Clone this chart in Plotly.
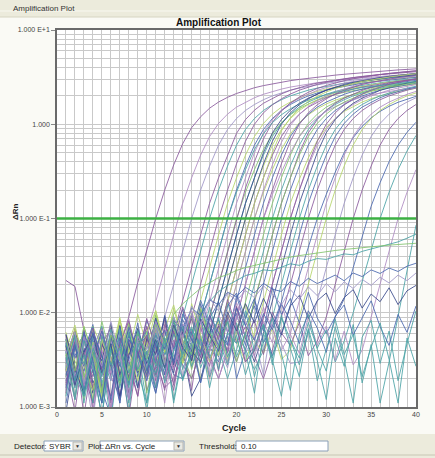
import plotly.graph_objects as go

# ---------------- data ----------------
cycles = list(range(1, 41))
x_range = [0, 40]
x_ticks = [0, 5, 10, 15, 20, 25, 30, 35, 40]
y_tickvals = [0.001, 0.01, 0.1, 1, 10]
y_ticktext = ["1.000 E-3", "1.000 E-2", "1.000 E-1", "1.000", "1.000 E+1"]
threshold = 0.10
baseline_marks = [3, 10]

curve_01 = [0.022, 0.019, 0.0065, 0.0009, 0.003, 0.0022, 0.0045, 0.009, 0.021, 0.046,
            0.1, 0.2, 0.37, 0.62, 0.92, 1.2, 1.48, 1.72, 1.93, 2.12,
            2.29, 2.44, 2.57, 2.69, 2.8, 2.9, 2.99, 3.08, 3.16, 3.24,
            3.32, 3.39, 3.46, 3.53, 3.59, 3.65, 3.71, 3.77, 3.82, 3.87]
curve_02 = [0.004, 0.0012, 0.0065, 0.0025, 0.0008, 0.0035, 0.0018, 0.0042, 0.003, 0.006,
            0.013, 0.03, 0.067, 0.145, 0.27, 0.47, 0.74, 1.02, 1.28, 1.52,
            1.72, 1.91, 2.08, 2.23, 2.36, 2.48, 2.58, 2.68, 2.76, 2.84,
            2.92, 2.99, 3.05, 3.11, 3.17, 3.22, 3.28, 3.33, 3.38, 3.42]
curve_03 = [0.0015, 0.005, 0.0028, 0.0007, 0.0048, 0.0022, 0.006, 0.0012, 0.0034, 0.002,
            0.004, 0.009, 0.02, 0.045, 0.1, 0.2, 0.36, 0.6, 0.88, 1.15,
            1.4, 1.62, 1.82, 2.0, 2.15, 2.3, 2.42, 2.53, 2.63, 2.72,
            2.8, 2.88, 2.95, 3.02, 3.08, 3.14, 3.2, 3.25, 3.3, 3.35]
curve_04 = [0.0025, 0.0009, 0.0042, 0.0016, 0.0055, 0.0011, 0.0038, 0.0021, 0.0068, 0.0015,
            0.0026, 0.003, 0.006, 0.013, 0.03, 0.067, 0.145, 0.27, 0.47, 0.8,
            1.12, 1.41, 1.67, 1.89, 2.1, 2.29, 2.45, 2.6, 2.73, 2.84,
            2.95, 3.04, 3.12, 3.21, 3.29, 3.36, 3.42, 3.49, 3.54, 3.61]
curve_05 = [0.0032, 0.0058, 0.0014, 0.0026, 0.0008, 0.0044, 0.0019, 0.0052, 0.0024, 0.0011,
            0.0036, 0.002, 0.004, 0.009, 0.02, 0.045, 0.1, 0.2, 0.36, 0.6,
            0.88, 1.15, 1.4, 1.62, 1.82, 2.0, 2.15, 2.3, 2.42, 2.53,
            2.63, 2.72, 2.8, 2.88, 2.95, 3.02, 3.08, 3.14, 3.2, 3.25]
curve_06 = [0.0045, 0.0017, 0.0062, 0.0023, 0.0035, 0.0009, 0.0049, 0.0027, 0.0013, 0.0058,
            0.0031, 0.0016, 0.002, 0.004, 0.009, 0.02, 0.045, 0.1, 0.2, 0.38,
            0.66, 1.0, 1.32, 1.61, 1.86, 2.09, 2.3, 2.47, 2.65, 2.78,
            2.91, 3.02, 3.13, 3.22, 3.31, 3.39, 3.47, 3.54, 3.61, 3.68]
curve_07 = [0.0021, 0.0046, 0.0012, 0.0064, 0.0029, 0.0041, 0.0018, 0.0075, 0.0033, 0.0022,
            0.0052, 0.0027, 0.0085, 0.003, 0.006, 0.013, 0.03, 0.067, 0.145, 0.27,
            0.47, 0.74, 1.02, 1.28, 1.52, 1.72, 1.91, 2.08, 2.23, 2.36,
            2.48, 2.58, 2.68, 2.76, 2.84, 2.92, 2.99, 3.05, 3.11, 3.17]
curve_08 = [0.0011, 0.0037, 0.0024, 0.0053, 0.0015, 0.0008, 0.0043, 0.0019, 0.0061, 0.0028,
            0.0014, 0.0039, 0.0022, 0.002, 0.004, 0.009, 0.02, 0.045, 0.1, 0.2,
            0.36, 0.6, 0.88, 1.15, 1.4, 1.62, 1.82, 2.0, 2.15, 2.3,
            2.42, 2.53, 2.63, 2.72, 2.8, 2.88, 2.95, 3.02, 3.08, 3.14]
curve_09 = [0.0056, 0.0021, 0.0034, 0.0009, 0.0047, 0.0026, 0.0071, 0.0017, 0.0039, 0.0024,
            0.0062, 0.0031, 0.0018, 0.0044, 0.003, 0.006, 0.013, 0.03, 0.067, 0.145,
            0.27, 0.5, 0.81, 1.12, 1.41, 1.67, 1.89, 2.1, 2.29, 2.45,
            2.6, 2.73, 2.84, 2.95, 3.04, 3.12, 3.21, 3.29, 3.36, 3.42]
curve_10 = [0.0028, 0.0065, 0.0019, 0.0041, 0.0012, 0.0054, 0.0031, 0.0023, 0.0068, 0.0014,
            0.0045, 0.0026, 0.0082, 0.0037, 0.002, 0.004, 0.009, 0.02, 0.045, 0.1,
            0.19, 0.33, 0.54, 0.79, 1.04, 1.26, 1.46, 1.64, 1.8, 1.94,
            2.07, 2.18, 2.28, 2.37, 2.45, 2.52, 2.59, 2.66, 2.72, 2.77]
curve_11 = [0.0017, 0.0049, 0.0008, 0.0036, 0.0058, 0.0021, 0.0013, 0.0047, 0.0025, 0.0072,
            0.0033, 0.0015, 0.0051, 0.0028, 0.002, 0.004, 0.009, 0.02, 0.045, 0.1,
            0.21, 0.4, 0.7, 1.05, 1.38, 1.68, 1.94, 2.18, 2.4, 2.58,
            2.76, 2.9, 3.04, 3.16, 3.26, 3.36, 3.46, 3.54, 3.62, 3.7]
curve_12 = [0.0039, 0.0013, 0.0057, 0.0024, 0.0032, 0.0007, 0.0044, 0.0029, 0.0016, 0.0063,
            0.0022, 0.0048, 0.0011, 0.0035, 0.0055, 0.003, 0.006, 0.013, 0.03, 0.067,
            0.145, 0.27, 0.47, 0.74, 1.02, 1.28, 1.52, 1.72, 1.91, 2.08,
            2.23, 2.36, 2.48, 2.58, 2.68, 2.76, 2.84, 2.92, 2.99, 3.05]
curve_13 = [0.0062, 0.0027, 0.0015, 0.0049, 0.0034, 0.0075, 0.0019, 0.0041, 0.0058, 0.0024,
            0.0092, 0.0038, 0.0065, 0.0029, 0.0048, 0.002, 0.004, 0.009, 0.02, 0.045,
            0.1, 0.2, 0.36, 0.6, 0.88, 1.15, 1.4, 1.62, 1.82, 2.0,
            2.15, 2.3, 2.42, 2.53, 2.63, 2.72, 2.8, 2.88, 2.95, 3.02]
curve_14 = [0.0009, 0.0033, 0.0052, 0.0018, 0.0027, 0.0044, 0.0012, 0.0061, 0.0023, 0.0037,
            0.0016, 0.0054, 0.0025, 0.0042, 0.0013, 0.002, 0.004, 0.009, 0.02, 0.045,
            0.1, 0.2, 0.38, 0.66, 1.0, 1.32, 1.61, 1.86, 2.09, 2.3,
            2.47, 2.65, 2.78, 2.91, 3.02, 3.13, 3.22, 3.31, 3.39, 3.47]
curve_15 = [0.0031, 0.0068, 0.0022, 0.0011, 0.0046, 0.0027, 0.0056, 0.0014, 0.0038, 0.0071,
            0.0026, 0.0049, 0.0017, 0.0062, 0.0033, 0.0086, 0.003, 0.006, 0.013, 0.03,
            0.067, 0.145, 0.27, 0.47, 0.74, 1.02, 1.28, 1.52, 1.72, 1.91,
            2.08, 2.23, 2.36, 2.48, 2.58, 2.68, 2.76, 2.84, 2.92, 2.99]
curve_16 = [0.0044, 0.0019, 0.0072, 0.0035, 0.0013, 0.0058, 0.0024, 0.0039, 0.0096, 0.0045,
            0.0028, 0.0067, 0.0121, 0.0052, 0.0088, 0.0041, 0.002, 0.004, 0.009, 0.02,
            0.045, 0.1, 0.19, 0.33, 0.54, 0.79, 1.04, 1.26, 1.46, 1.64,
            1.8, 1.94, 2.07, 2.18, 2.28, 2.37, 2.45, 2.52, 2.59, 2.66]
curve_17 = [0.0024, 0.0047, 0.0015, 0.0031, 0.0063, 0.0009, 0.0042, 0.0028, 0.0055, 0.0019,
            0.0036, 0.0011, 0.0049, 0.0073, 0.0026, 0.0057, 0.002, 0.004, 0.009, 0.02,
            0.045, 0.1, 0.2, 0.37, 0.64, 0.97, 1.27, 1.54, 1.78, 2.0,
            2.2, 2.37, 2.53, 2.66, 2.78, 2.89, 2.99, 3.08, 3.17, 3.25]
curve_18 = [0.0052, 0.0021, 0.0038, 0.0075, 0.0016, 0.0043, 0.0029, 0.0012, 0.0061, 0.0034,
            0.0047, 0.0022, 0.0078, 0.0031, 0.0056, 0.0018, 0.0044, 0.003, 0.006, 0.013,
            0.03, 0.067, 0.145, 0.27, 0.47, 0.74, 1.02, 1.28, 1.52, 1.72,
            1.91, 2.08, 2.23, 2.36, 2.48, 2.58, 2.68, 2.76, 2.84, 2.92]
curve_19 = [0.0014, 0.0058, 0.0033, 0.0021, 0.0069, 0.0027, 0.0045, 0.0008, 0.0037, 0.0052,
            0.0019, 0.0066, 0.0029, 0.0042, 0.0015, 0.0071, 0.0035, 0.002, 0.004, 0.009,
            0.02, 0.045, 0.1, 0.2, 0.38, 0.66, 1.0, 1.32, 1.61, 1.86,
            2.09, 2.3, 2.47, 2.65, 2.78, 2.91, 3.02, 3.13, 3.22, 3.31]
curve_20 = [0.0036, 0.0012, 0.0049, 0.0026, 0.0081, 0.0034, 0.0017, 0.0063, 0.0041, 0.0023,
            0.0095, 0.0047, 0.0031, 0.0068, 0.0025, 0.0053, 0.0039, 0.0072, 0.003, 0.006,
            0.013, 0.03, 0.067, 0.145, 0.27, 0.47, 0.74, 1.02, 1.28, 1.52,
            1.72, 1.91, 2.08, 2.23, 2.36, 2.48, 2.58, 2.68, 2.76, 2.84]
curve_21 = [0.0027, 0.0053, 0.0011, 0.0038, 0.0022, 0.0059, 0.0016, 0.0044, 0.0032, 0.0009,
            0.0048, 0.0025, 0.0064, 0.0019, 0.0036, 0.0057, 0.0021, 0.0043, 0.002, 0.004,
            0.009, 0.02, 0.045, 0.1, 0.2, 0.36, 0.6, 0.88, 1.15, 1.4,
            1.62, 1.82, 2.0, 2.15, 2.3, 2.42, 2.53, 2.63, 2.72, 2.8]
curve_22 = [0.0048, 0.0023, 0.0066, 0.0015, 0.0039, 0.0028, 0.0074, 0.0032, 0.0013, 0.0055,
            0.0037, 0.0084, 0.0026, 0.0047, 0.0061, 0.0029, 0.0078, 0.0041, 0.0056, 0.003,
            0.006, 0.013, 0.03, 0.067, 0.145, 0.27, 0.5, 0.81, 1.12, 1.41,
            1.67, 1.89, 2.1, 2.29, 2.45, 2.6, 2.73, 2.84, 2.95, 3.04]
curve_23 = [0.0019, 0.0042, 0.0058, 0.0024, 0.0011, 0.0047, 0.0035, 0.0067, 0.0021, 0.0039,
            0.0014, 0.0052, 0.0031, 0.0075, 0.0044, 0.0018, 0.0063, 0.0034, 0.0089, 0.002,
            0.004, 0.009, 0.02, 0.045, 0.1, 0.2, 0.36, 0.6, 0.88, 1.15,
            1.4, 1.62, 1.82, 2.0, 2.15, 2.3, 2.42, 2.53, 2.63, 2.72]
curve_24 = [0.0057, 0.0031, 0.0018, 0.0072, 0.0043, 0.0026, 0.0085, 0.0036, 0.0052, 0.0021,
            0.0068, 0.0039, 0.0112, 0.0048, 0.0029, 0.0074, 0.0058, 0.0035, 0.0096, 0.0051,
            0.003, 0.006, 0.013, 0.03, 0.067, 0.145, 0.26, 0.44, 0.67, 0.92,
            1.15, 1.37, 1.55, 1.72, 1.87, 2.01, 2.12, 2.23, 2.32, 2.41]
curve_25 = [0.0033, 0.0016, 0.0054, 0.0027, 0.0041, 0.0009, 0.0062, 0.0024, 0.0038, 0.0049,
            0.0017, 0.0071, 0.0028, 0.0045, 0.0033, 0.0081, 0.0022, 0.0059, 0.0037, 0.0066,
            0.003, 0.004, 0.009, 0.02, 0.045, 0.1, 0.2, 0.36, 0.6, 0.88,
            1.15, 1.4, 1.62, 1.82, 2.0, 2.15, 2.3, 2.42, 2.53, 2.63]
curve_26 = [0.0025, 0.0061, 0.0038, 0.0014, 0.0047, 0.0029, 0.0073, 0.0019, 0.0055, 0.0034,
            0.0088, 0.0042, 0.0023, 0.0067, 0.0031, 0.0104, 0.0046, 0.0072, 0.0038, 0.0115,
            0.0054, 0.003, 0.006, 0.013, 0.03, 0.067, 0.145, 0.27, 0.5, 0.81,
            1.12, 1.41, 1.67, 1.89, 2.1, 2.29, 2.45, 2.6, 2.73, 2.84]
curve_27 = [0.0045, 0.0022, 0.0013, 0.0056, 0.0034, 0.0019, 0.0064, 0.0027, 0.0042, 0.0011,
            0.0051, 0.0036, 0.0078, 0.0025, 0.0047, 0.0091, 0.0033, 0.0059, 0.0128, 0.0064,
            0.0041, 0.0025, 0.004, 0.009, 0.02, 0.045, 0.1, 0.2, 0.36, 0.6,
            0.88, 1.15, 1.4, 1.62, 1.82, 2.0, 2.15, 2.3, 2.42, 2.53]
curve_28 = [0.0029, 0.0066, 0.0017, 0.0043, 0.0025, 0.0058, 0.0012, 0.0037, 0.0049, 0.0021,
            0.0069, 0.0032, 0.0015, 0.0054, 0.0086, 0.0039, 0.0062, 0.0024, 0.0095, 0.0048,
            0.0071, 0.0035, 0.002, 0.004, 0.009, 0.02, 0.045, 0.1, 0.2, 0.36,
            0.6, 0.88, 1.15, 1.4, 1.62, 1.82, 2.0, 2.15, 2.3, 2.42]
curve_29 = [0.0052, 0.0018, 0.0039, 0.0071, 0.0026, 0.0044, 0.0011, 0.0057, 0.0033, 0.0083,
            0.0046, 0.0022, 0.0065, 0.0108, 0.0051, 0.0034, 0.0087, 0.0129, 0.0062, 0.0098,
            0.0045, 0.0138, 0.0072, 0.0035, 0.006, 0.012, 0.024, 0.05, 0.1, 0.18,
            0.31, 0.5, 0.72, 0.95, 1.17, 1.37, 1.55, 1.71, 1.85, 1.98]
curve_30 = [0.0041, 0.0074, 0.0028, 0.0015, 0.0053, 0.0036, 0.0089, 0.0024, 0.0061, 0.0043,
            0.0105, 0.0038, 0.0072, 0.0029, 0.0058, 0.0115, 0.0047, 0.0082, 0.0033, 0.0066,
            0.0124, 0.0051, 0.0037, 0.0069, 0.0032, 0.004, 0.009, 0.02, 0.045, 0.1,
            0.2, 0.36, 0.6, 0.88, 1.15, 1.4, 1.62, 1.82, 2.0, 2.15]
curve_31 = [0.0031, 0.0012, 0.0048, 0.0025, 0.0067, 0.0019, 0.0041, 0.0054, 0.0016, 0.0036,
            0.0078, 0.0027, 0.0049, 0.0021, 0.0063, 0.0035, 0.0092, 0.0044, 0.0026, 0.0071,
            0.0038, 0.0055, 0.0022, 0.0085, 0.0047, 0.0029, 0.003, 0.006, 0.013, 0.03,
            0.067, 0.145, 0.27, 0.47, 0.74, 1.02, 1.28, 1.52, 1.72, 1.91]
curve_32 = [0.0058, 0.0024, 0.0037, 0.0011, 0.0046, 0.0069, 0.0021, 0.0052, 0.0033, 0.0087,
            0.0042, 0.0019, 0.0064, 0.0031, 0.0095, 0.0048, 0.0027, 0.0076, 0.0039, 0.0118,
            0.0054, 0.0083, 0.0036, 0.0102, 0.0061, 0.0045, 0.0079, 0.0035, 0.005, 0.009,
            0.02, 0.045, 0.1, 0.2, 0.36, 0.6, 0.88, 1.15, 1.4, 1.62]
curve_33 = [0.0022, 0.0049, 0.0015, 0.0063, 0.0034, 0.0027, 0.0071, 0.0018, 0.0045, 0.0056,
            0.0029, 0.0094, 0.0041, 0.0068, 0.0035, 0.0125, 0.0058, 0.0084, 0.0046, 0.0152,
            0.0073, 0.0118, 0.0064, 0.0185, 0.0096, 0.0142, 0.0078, 0.0165, 0.0088, 0.006,
            0.009, 0.014, 0.03, 0.065, 0.135, 0.24, 0.4, 0.6, 0.82, 1.05]
curve_34 = [0.0038, 0.0016, 0.0057, 0.0029, 0.0011, 0.0044, 0.0068, 0.0023, 0.0051, 0.0035,
            0.0082, 0.0027, 0.0059, 0.0043, 0.0098, 0.0036, 0.0072, 0.0025, 0.0061, 0.0047,
            0.0105, 0.0039, 0.0074, 0.0028, 0.0088, 0.0052, 0.0033, 0.0079, 0.0042, 0.0066,
            0.003, 0.005, 0.01, 0.021, 0.046, 0.1, 0.19, 0.33, 0.52, 0.76]
curve_35 = [0.0047, 0.0021, 0.0035, 0.0069, 0.0014, 0.0052, 0.0031, 0.0086, 0.0026, 0.0044,
            0.0061, 0.0019, 0.0075, 0.0038, 0.0054, 0.0107, 0.0041, 0.0067, 0.0029, 0.0093,
            0.0056, 0.0034, 0.0081, 0.0048, 0.0126, 0.0059, 0.0037, 0.0091, 0.0045, 0.0072,
            0.0031, 0.0064, 0.0028, 0.004, 0.009, 0.02, 0.045, 0.1, 0.19, 0.33]
curve_36 = [0.0026, 0.0058, 0.0013, 0.0041, 0.0072, 0.0024, 0.0049, 0.0017, 0.0063, 0.0035,
            0.0021, 0.0056, 0.0089, 0.0032, 0.0067, 0.0045, 0.0115, 0.0052, 0.0028, 0.0078,
            0.0039, 0.0014, 0.0061, 0.0033, 0.0095, 0.0042, 0.0021, 0.0068, 0.0031, 0.0012,
            0.0054, 0.0027, 0.0075, 0.0018, 0.0046, 0.0011, 0.003, 0.009, 0.028, 0.085]
curve_37 = [0.0013, 0.0046, 0.0029, 0.0071, 0.0018, 0.0037, 0.0055, 0.0011, 0.0042, 0.0064,
            0.0027, 0.0049, 0.0035, 0.002, 0.004, 0.009, 0.02, 0.045, 0.1, 0.19,
            0.33, 0.54, 0.79, 1.04, 1.26, 1.46, 1.64, 1.8, 1.94, 2.07,
            2.18, 2.28, 2.37, 2.45, 2.52, 2.59, 2.66, 2.72, 2.77, 2.82]
curve_38 = [0.0059, 0.0025, 0.0014, 0.0043, 0.0031, 0.0077, 0.0022, 0.0048, 0.0016, 0.0053,
            0.0036, 0.0091, 0.0028, 0.0062, 0.0039, 0.003, 0.006, 0.013, 0.03, 0.067,
            0.145, 0.27, 0.5, 0.81, 1.12, 1.41, 1.67, 1.89, 2.1, 2.29,
            2.45, 2.6, 2.73, 2.84, 2.95, 3.04, 3.12, 3.21, 3.29, 3.36]
curve_39 = [0.0024, 0.0068, 0.0035, 0.0012, 0.0051, 0.0029, 0.0083, 0.0041, 0.0019, 0.0062,
            0.0105, 0.0047, 0.0072, 0.0031, 0.0125, 0.0058, 0.003, 0.006, 0.013, 0.03,
            0.067, 0.145, 0.27, 0.5, 0.85, 1.17, 1.47, 1.75, 1.98, 2.2,
            2.39, 2.56, 2.71, 2.85, 2.97, 3.08, 3.17, 3.27, 3.36, 3.44]
curve_40 = [0.0041, 0.0017, 0.0056, 0.0033, 0.0021, 0.0064, 0.0038, 0.0012, 0.0049, 0.0027,
            0.0073, 0.0044, 0.0025, 0.0058, 0.0096, 0.0047, 0.0032, 0.002, 0.004, 0.009,
            0.02, 0.045, 0.1, 0.18, 0.31, 0.5, 0.74, 0.97, 1.18, 1.37,
            1.54, 1.69, 1.82, 1.95, 2.06, 2.15, 2.24, 2.31, 2.38, 2.45]
curve_41 = [0.0035, 0.0062, 0.0021, 0.0047, 0.0014, 0.0056, 0.0031, 0.0078, 0.0024, 0.0043,
            0.0067, 0.0029, 0.0088, 0.0052, 0.0036, 0.0109, 0.0061, 0.0042, 0.0081, 0.003,
            0.006, 0.013, 0.03, 0.067, 0.145, 0.27, 0.47, 0.74, 1.02, 1.28,
            1.52, 1.72, 1.91, 2.08, 2.23, 2.36, 2.48, 2.58, 2.68, 2.76]
curve_42 = [0.0018, 0.0051, 0.0034, 0.0069, 0.0025, 0.0013, 0.0047, 0.0082, 0.0036, 0.0058,
            0.0022, 0.0075, 0.0043, 0.0115, 0.0061, 0.0033, 0.0094, 0.0052, 0.0138, 0.0071,
            0.003, 0.004, 0.009, 0.02, 0.045, 0.1, 0.2, 0.38, 0.66, 1.0,
            1.32, 1.61, 1.86, 2.09, 2.3, 2.47, 2.65, 2.78, 2.91, 3.02]
curve_43 = [0.0046, 0.0019, 0.0063, 0.0032, 0.0011, 0.0055, 0.0027, 0.0071, 0.0038, 0.0022,
            0.0084, 0.0049, 0.0031, 0.0097, 0.0058, 0.0136, 0.0074, 0.0045, 0.0118, 0.0162,
            0.0087, 0.0142, 0.0048, 0.0072, 0.013, 0.03, 0.067, 0.145, 0.27, 0.47,
            0.74, 1.02, 1.28, 1.52, 1.72, 1.91, 2.08, 2.23, 2.36, 2.48]
curve_44 = [0.0027, 0.0053, 0.0016, 0.0044, 0.0068, 0.0023, 0.0039, 0.0012, 0.0057, 0.0034,
            0.0081, 0.0046, 0.0025, 0.0072, 0.0105, 0.0051, 0.0038, 0.0094, 0.0063, 0.0128,
            0.0079, 0.0052, 0.0114, 0.0068, 0.004, 0.006, 0.013, 0.03, 0.067, 0.145,
            0.27, 0.47, 0.74, 1.02, 1.28, 1.52, 1.72, 1.91, 2.08, 2.23]

# non-amplifying wells
flat_01 = [0.0034, 0.0012, 0.0051, 0.0027, 0.0008, 0.0043, 0.0019, 0.0062, 0.0025, 0.0039,
           0.0016, 0.0048, 0.0071, 0.0036, 0.0058, 0.0094, 0.0132, 0.0168, 0.0195, 0.0221,
           0.0248, 0.0262, 0.0285, 0.0279, 0.0304, 0.0331, 0.0318, 0.0352, 0.0376, 0.0368,
           0.0395, 0.0421, 0.0412, 0.0448, 0.0475, 0.0502, 0.0531, 0.0565, 0.0618, 0.0682]
flat_02 = [0.0021, 0.0046, 0.0015, 0.0033, 0.0064, 0.0028, 0.0011, 0.0052, 0.0037, 0.0019,
           0.0058, 0.0041, 0.0083, 0.0065, 0.0112, 0.0094, 0.0138, 0.0121, 0.0165, 0.0148,
           0.0186, 0.0162, 0.0205, 0.0178, 0.0168, 0.0215, 0.0191, 0.0232, 0.0204, 0.0226,
           0.0251, 0.0218, 0.0264, 0.0242, 0.0285, 0.0261, 0.0298, 0.0274, 0.0312, 0.0335]
flat_03 = [0.0044, 0.0017, 0.0038, 0.0059, 0.0023, 0.0047, 0.0013, 0.0035, 0.0068, 0.0029,
           0.0052, 0.0026, 0.0074, 0.0043, 0.0031, 0.0086, 0.0057, 0.0039, 0.0102, 0.0064,
           0.0125, 0.0078, 0.0142, 0.0091, 0.0058, 0.0118, 0.0153, 0.0087, 0.0134, 0.0162,
           0.0098, 0.0145, 0.0176, 0.0112, 0.0158, 0.0131, 0.0184, 0.0122, 0.0171, 0.0195]
flat_04 = [0.0029, 0.0055, 0.0014, 0.0042, 0.0021, 0.0067, 0.0033, 0.0009, 0.0048, 0.0025,
           0.0061, 0.0018, 0.0039, 0.0072, 0.0027, 0.0053, 0.0016, 0.0045, 0.0081, 0.0034,
           0.0062, 0.0021, 0.0049, 0.0088, 0.0037, 0.0015, 0.0058, 0.0096, 0.0041, 0.0024,
           0.0071, 0.0032, 0.0011, 0.0055, 0.0083, 0.0029, 0.0064, 0.0019, 0.0047, 0.0105]
flat_05 = [0.0016, 0.0043, 0.0027, 0.0061, 0.0035, 0.0012, 0.0054, 0.0031, 0.0078, 0.0024,
           0.0047, 0.0065, 0.0029, 0.0085, 0.0052, 0.0038, 0.0094, 0.0061, 0.0045, 0.0112,
           0.0073, 0.0051, 0.0098, 0.0066, 0.0124, 0.0082, 0.0047, 0.0105, 0.0069, 0.0038,
           0.0092, 0.0121, 0.0058, 0.0087, 0.0134, 0.0071, 0.0045, 0.0096, 0.0062, 0.0118]
flat_06 = [0.0052, 0.0024, 0.0071, 0.0036, 0.0015, 0.0058, 0.0041, 0.0019, 0.0063, 0.0032,
           0.0075, 0.0048, 0.0096, 0.0124, 0.0151, 0.0182, 0.0208, 0.0236, 0.0254, 0.0281,
           0.0302, 0.0318, 0.0335, 0.0356, 0.0372, 0.0389, 0.0404, 0.0418, 0.0432, 0.0445,
           0.0458, 0.0469, 0.0481, 0.0492, 0.0503, 0.0511, 0.0522, 0.0531, 0.0538, 0.0546]
flat_07 = [0.0037, 0.0062, 0.0018, 0.0045, 0.0027, 0.0081, 0.0034, 0.0013, 0.0056, 0.0041,
           0.0069, 0.0028, 0.0091, 0.0053, 0.0118, 0.0076, 0.0142, 0.0105, 0.0161, 0.0134,
           0.0172, 0.0145, 0.0193, 0.0158, 0.0121, 0.0176, 0.0139, 0.0188, 0.0152, 0.0204,
           0.0167, 0.0213, 0.0181, 0.0226, 0.0195, 0.0238, 0.0207, 0.0251, 0.0219, 0.0264]
flat_08 = [0.0048, 0.0019, 0.0036, 0.0011, 0.0057, 0.0028, 0.0042, 0.0016, 0.0065, 0.0031,
           0.0023, 0.0054, 0.0012, 0.0039, 0.0071, 0.0026, 0.0047, 0.0089, 0.0034, 0.0058,
           0.0022, 0.0044, 0.0076, 0.0031, 0.0013, 0.0052, 0.0028, 0.0066, 0.0019, 0.0041,
           0.0085, 0.0036, 0.0059, 0.0021, 0.0043, 0.0078, 0.0032, 0.0011, 0.0054, 0.0027]

curves = [curve_01, curve_02, curve_03, curve_04, curve_05, curve_06, curve_07, curve_08,
          curve_09, curve_10, curve_11, curve_12, curve_13, curve_14, curve_15, curve_16,
          curve_17, curve_18, curve_19, curve_20, curve_21, curve_22, curve_23, curve_24,
          curve_25, curve_26, curve_27, curve_28, curve_29, curve_30, curve_31, curve_32,
          curve_33, curve_34, curve_35, curve_36, curve_37, curve_38, curve_39, curve_40,
          curve_41, curve_42, curve_43, curve_44,
          flat_01, flat_02, flat_03, flat_04, flat_05, flat_06, flat_07, flat_08]

PURPLE, LPURPLE, YGREEN, GREEN, TEAL, BLUE, NAVY, LAVENDER = (
    "#8b5a9e", "#b08cc4", "#b6d66a", "#82c46e", "#4aa3a6", "#4a68b0", "#3a4a8c", "#9f96c8")
curve_colors = [PURPLE, LPURPLE, LAVENDER, PURPLE, TEAL, PURPLE, YGREEN, BLUE,
                LPURPLE, GREEN, PURPLE, TEAL, YGREEN, NAVY, PURPLE, YGREEN,
                LPURPLE, BLUE, PURPLE, GREEN, TEAL, PURPLE, BLUE, YGREEN,
                LPURPLE, NAVY, TEAL, PURPLE, BLUE, YGREEN, LAVENDER, PURPLE,
                BLUE, TEAL, LPURPLE, TEAL, TEAL, NAVY, YGREEN, LPURPLE,
                GREEN, PURPLE, BLUE, LPURPLE,
                TEAL, BLUE, NAVY, TEAL, BLUE, GREEN, LAVENDER, TEAL]

# ---------------- layout helpers (pixel -> paper) ----------------
W, H = 435, 458
ML, MR, MT, MB = 57, 19, 30, 51
PW, PH = W - ML - MR, H - MT - MB


def X(px):
    return (px - ML) / PW


def Y(py):
    return (H - MB - py) / PH


FONT = "Liberation Sans, Arial, sans-serif"

fig = go.Figure()

for vals, col in zip(curves, curve_colors):
    fig.add_trace(go.Scatter(x=cycles[:len(vals)], y=vals, mode="lines",
                             line=dict(color=col, width=1), opacity=0.85,
                             hoverinfo="skip", showlegend=False))

# threshold line
fig.add_trace(go.Scatter(x=x_range, y=[threshold, threshold], mode="lines",
                         line=dict(color="#3cb043", width=2.5),
                         hoverinfo="skip", showlegend=False, cliponaxis=False))

# baseline start / end markers
fig.add_trace(go.Scatter(x=baseline_marks, y=[10 ** -3.045] * len(baseline_marks),
                         mode="markers", cliponaxis=False,
                         marker=dict(symbol="triangle-up", size=6, color="#d42020"),
                         hoverinfo="skip", showlegend=False))

minor_y = [k * 10 ** e for e in range(-3, 1) for k in range(2, 10)]

fig.update_xaxes(range=x_range, tickvals=x_ticks, showgrid=True, gridcolor="#c9c9c9",
                 gridwidth=1, minor=dict(dtick=1, showgrid=True, gridcolor="#c9c9c9"),
                 showline=True, mirror=True, linecolor="#6a6a6a", linewidth=1.5,
                 ticks="", zeroline=False,
                 tickfont=dict(family=FONT, size=7, color="#444"))
fig.update_yaxes(type="log", range=[-3, 1], tickvals=y_tickvals, ticktext=y_ticktext,
                 showgrid=True, gridcolor="#c9c9c9", gridwidth=1,
                 minor=dict(tickvals=minor_y, showgrid=True, gridcolor="#c9c9c9"),
                 showline=True, mirror=True, linecolor="#6a6a6a", linewidth=1.5,
                 ticks="outside", ticklen=4, tickcolor="#888",
                 tickfont=dict(family=FONT, size=7, color="#444"))

shapes = []
annotations = []

# header band
shapes.append(dict(type="rect", xref="paper", yref="paper", x0=X(0), x1=X(W), y0=Y(17), y1=Y(0),
                   fillcolor="#ecebdc", line=dict(width=0), layer="below"))
shapes.append(dict(type="line", xref="paper", yref="paper", x0=X(0), x1=X(W), y0=Y(11), y1=Y(11),
                   line=dict(color="#f8f8f0", width=1)))
shapes.append(dict(type="line", xref="paper", yref="paper", x0=X(0), x1=X(W), y0=Y(17), y1=Y(17),
                   line=dict(color="#d6d4c2", width=1)))
annotations.append(dict(text="Amplification Plot", xref="paper", yref="paper", x=X(11), y=Y(9),
                        xanchor="left", yanchor="middle", showarrow=False,
                        font=dict(family=FONT, size=8, color="#333")))

# chart title and axis titles
annotations.append(dict(text="<b>Amplification Plot</b>", xref="paper", yref="paper", x=X(219),
                        y=Y(22), xanchor="center", yanchor="middle", showarrow=False,
                        font=dict(family=FONT, size=10, color="#111")))
annotations.append(dict(text="<b>ΔRn</b>", xref="paper", yref="paper", x=X(15), y=Y(212),
                        xanchor="center", yanchor="middle", showarrow=False, textangle=-90,
                        font=dict(family=FONT, size=8, color="#222")))
annotations.append(dict(text="<b>Cycle</b>", xref="paper", yref="paper", x=X(234), y=Y(428),
                        xanchor="center", yanchor="middle", showarrow=False,
                        font=dict(family=FONT, size=9, color="#222")))

# bottom control bar
shapes.append(dict(type="rect", xref="paper", yref="paper", x0=X(0), x1=X(W), y0=Y(H), y1=Y(434),
                   fillcolor="#ecebdc", line=dict(width=0), layer="below"))
shapes.append(dict(type="line", xref="paper", yref="paper", x0=X(0), x1=X(W), y0=Y(455), y1=Y(455),
                   line=dict(color="#c8c6b4", width=1)))

controls = [  # label, label_x, box_x0, box_x1, value, has_arrow
    ("Detector:", 12, 44, 83, "SYBR", True),
    ("Plot:", 86, 100, 184, "ΔRn vs. Cycle", True),
    ("Threshold:", 197, 236, 328, "0.10", False),
]
for label, lx, bx0, bx1, value, arrow in controls:
    annotations.append(dict(text=label, xref="paper", yref="paper", x=X(lx), y=Y(446),
                            xanchor="left", yanchor="middle", showarrow=False,
                            font=dict(family=FONT, size=8, color="#222")))
    shapes.append(dict(type="rect", xref="paper", yref="paper", x0=X(bx0), x1=X(bx1),
                       y0=Y(451), y1=Y(441), fillcolor="#ffffff",
                       line=dict(color="#8a9fb8", width=1)))
    annotations.append(dict(text=value, xref="paper", yref="paper", x=X(bx0 + 3), y=Y(446),
                            xanchor="left", yanchor="middle", showarrow=False,
                            font=dict(family=FONT, size=8, color="#222")))
    if arrow:
        shapes.append(dict(type="rect", xref="paper", yref="paper", x0=X(bx1 - 10), x1=X(bx1 - 1),
                           y0=Y(450), y1=Y(442), fillcolor="#e8e8e2",
                           line=dict(color="#b8b8b0", width=1)))
        annotations.append(dict(text="▼", xref="paper", yref="paper", x=X(bx1 - 5.5), y=Y(446),
                                xanchor="center", yanchor="middle", showarrow=False,
                                font=dict(family=FONT, size=5, color="#333")))

fig.update_layout(width=W, height=H, margin=dict(l=ML, r=MR, t=MT, b=MB),
                  paper_bgcolor="#fafaf5", plot_bgcolor="#ffffff",
                  shapes=shapes, annotations=annotations, showlegend=False)

fig.write_html("out.html")
